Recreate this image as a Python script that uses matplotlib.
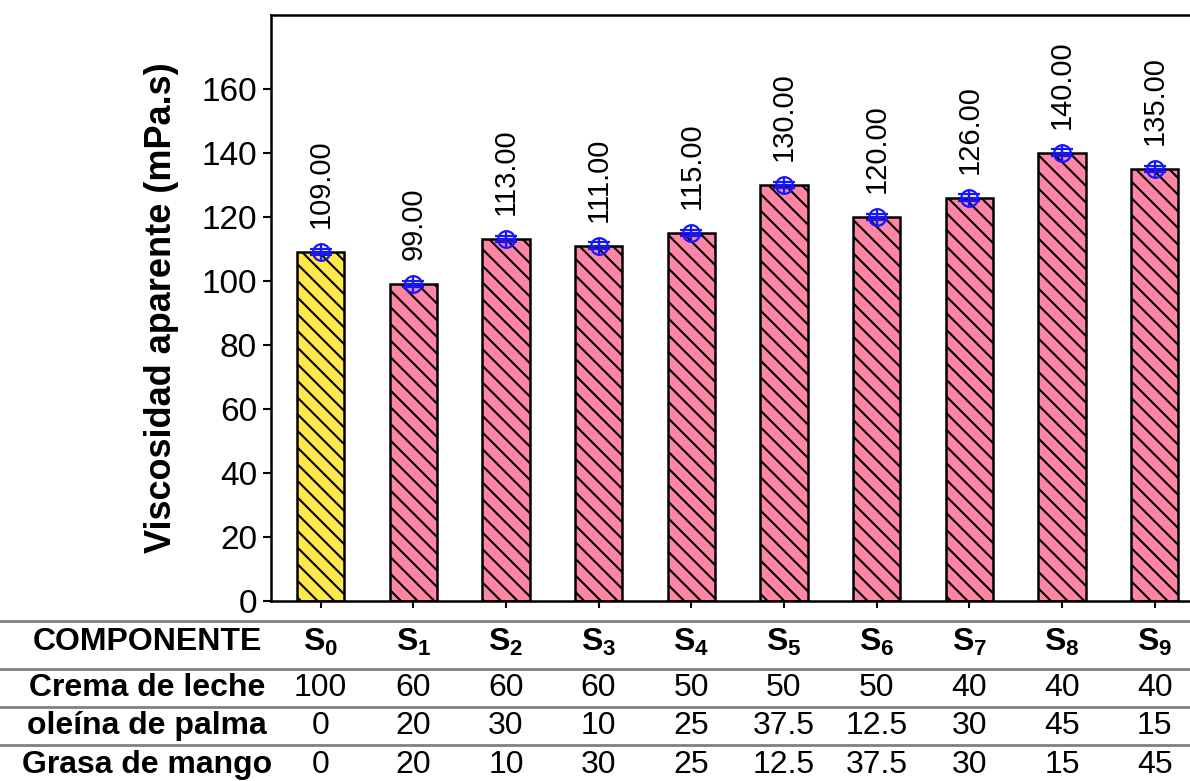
import matplotlib
matplotlib.use("Agg")
import matplotlib.pyplot as plt
from matplotlib.lines import Line2D
import matplotlib.transforms as mtransforms

plt.rcParams['font.family'] = ['Liberation Sans', 'DejaVu Sans']
plt.rcParams['mathtext.fontset'] = 'custom'
plt.rcParams['mathtext.bf'] = 'Liberation Sans:bold'
plt.rcParams['mathtext.rm'] = 'Liberation Sans'
plt.rcParams['hatch.linewidth'] = 1.5

# Data
samples = ['S$_0$', 'S$_1$', 'S$_2$', 'S$_3$', 'S$_4$', 'S$_5$', 'S$_6$', 'S$_7$', 'S$_8$', 'S$_9$']
viscosity = [109, 99, 113, 111, 115, 130, 120, 126, 140, 135]
errors = [1.0, 1.0, 1.0, 1.0, 1.0, 1.0, 1.0, 1.0, 1.0, 1.0]
row_labels = ['COMPONENTE', 'Crema de leche', 'oleína de palma', 'Grasa de mango']
crema = ['100', '60', '60', '60', '50', '50', '50', '40', '40', '40']
oleina = ['0', '20', '30', '10', '25', '37.5', '12.5', '30', '45', '15']
grasa = ['0', '20', '10', '30', '25', '12.5', '37.5', '30', '15', '45']
yticks = [0, 20, 40, 60, 80, 100, 120, 140, 160]

W, H = 1190, 781
fig = plt.figure(figsize=(W / 100, H / 100), dpi=100)
ax = fig.add_axes([271 / W, 1 - 601 / H, 1 - 271 / W, (601 - 15) / H])

x = list(range(len(viscosity)))
colors = ['#FFE94A'] + ['#FF85A6'] * (len(viscosity) - 1)
ax.bar(x, viscosity, width=0.51, color=colors, edgecolor='black', linewidth=1.8,
       hatch='\\\\', zorder=2)

ax.errorbar(x, viscosity, yerr=errors, fmt='o', mfc='none', mec='#1515FF', ms=12,
            mew=1.6, ecolor='#1515FF', elinewidth=1.6, capsize=8, capthick=1.6, zorder=4)
ax.plot(x, viscosity, linestyle='none', marker='+', ms=12, mew=1.6, color='#1515FF', zorder=4)

for xi, v in zip(x, viscosity):
    ax.text(xi, v + 7.5, f'{v:.2f}', rotation=90, ha='center', va='bottom',
            fontsize=21, color='black')

ax.set_xlim(-0.534, 9.38)
ax.set_ylim(0, 183)
ax.set_yticks(yticks)
ax.set_xticks(x)
ax.set_xticklabels([])
ax.tick_params(axis='y', labelsize=24, length=6, width=1.5, direction='out', pad=4)
ax.tick_params(axis='x', length=5, width=1.5, direction='out')
ax.set_ylabel('Viscosidad aparente (mPa.s)', fontsize=26, fontweight='bold', labelpad=16)
for side in ['left', 'bottom', 'top']:
    ax.spines[side].set_linewidth(1.8)
ax.spines['right'].set_visible(False)

# Table below
trans = mtransforms.blended_transform_factory(ax.transData, fig.transFigure)
line_y = [621, 669, 707, 745]
for ly in line_y:
    fig.add_artist(Line2D([0, 1], [1 - ly / H, 1 - ly / H], transform=fig.transFigure,
                          color='#808080', linewidth=2))

row_y = [642, 688, 726, 765]
for lbl, ry in zip(row_labels, row_y):
    fig.text(147 / W, 1 - ry / H, lbl, ha='center', va='center', fontsize=23,
             fontweight='bold')

for xi, s in zip(x, samples):
    fig.text(xi, 1 - row_y[0] / H, r'$\mathbf{' + s.replace('$', '') + '}$', transform=trans,
             ha='center', va='center', fontsize=23)
for vals, ry in zip([crema, oleina, grasa], row_y[1:]):
    for xi, val in zip(x, vals):
        fig.text(xi, 1 - ry / H, val, transform=trans, ha='center', va='center', fontsize=23)

fig.savefig('out.png', dpi=100)
